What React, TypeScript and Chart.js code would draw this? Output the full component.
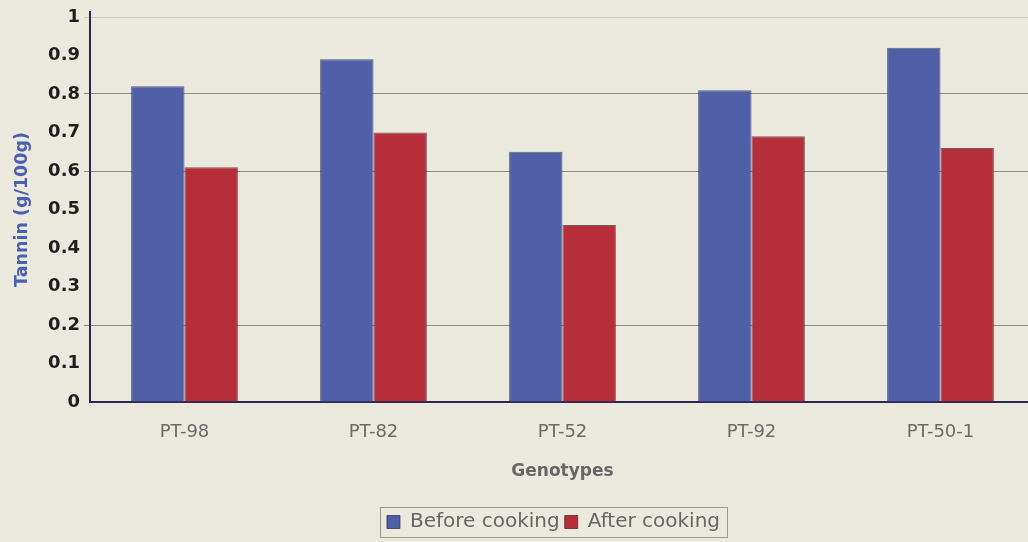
import React, { useEffect, useRef } from "react";
import { Chart, registerables } from "chart.js";

Chart.register(...registerables);

const genotypes = ["PT-98", "PT-82", "PT-52", "PT-92", "PT-50-1"];
const beforeCooking = [0.82, 0.89, 0.65, 0.81, 0.92];
const afterCooking = [0.61, 0.7, 0.46, 0.69, 0.66];
const seriesNames = ["Before cooking", "After cooking"];
const yTicks = [0, 0.1, 0.2, 0.3, 0.4, 0.5, 0.6, 0.7, 0.8, 0.9, 1];
const gridValues = [0.2, 0.6, 0.8];

const PAPER = "#ebe8de";
const AXIS = "#2c2752";
const LEGEND_SHIFT = 36;

// paper background, legend frame and the y axis running a little above 1
const decorations = {
  id: "decorations",
  afterUpdate(chart: any) {
    const legend = chart.legend;
    if (legend) {
      legend.left += LEGEND_SHIFT;
      legend.right += LEGEND_SHIFT;
      (legend.legendHitBoxes || []).forEach((hb: any) => {
        hb.left += LEGEND_SHIFT;
      });
    }
  },
  beforeDraw(chart: any) {
    const { ctx, width, height } = chart;
    ctx.save();
    ctx.fillStyle = PAPER;
    ctx.fillRect(0, 0, width, height);
    ctx.restore();
  },
  afterDraw(chart: any) {
    const { ctx, chartArea } = chart;
    ctx.save();
    ctx.strokeStyle = AXIS;
    ctx.lineWidth = 2;
    ctx.beginPath();
    ctx.moveTo(chartArea.left, chartArea.top - 6);
    ctx.lineTo(chartArea.left, chartArea.bottom);
    ctx.stroke();
    const boxes = chart.legend?.legendHitBoxes || [];
    if (boxes.length) {
      const first = boxes[0];
      const last = boxes[boxes.length - 1];
      const x0 = first.left - 7;
      const x1 = last.left + last.width + 7;
      const y0 = first.top - 5;
      const y1 = first.top + first.height + 5;
      ctx.strokeStyle = "#9a9890";
      ctx.lineWidth = 1;
      ctx.strokeRect(Math.round(x0) + 0.5, Math.round(y0) + 0.5, Math.round(x1 - x0), Math.round(y1 - y0));
    }
    ctx.restore();
  },
};

export default function App() {
  const canvasRef = useRef<HTMLCanvasElement | null>(null);

  useEffect(() => {
    if (!canvasRef.current) return;
    const chart = new Chart(canvasRef.current, {
      type: "bar",
      data: {
        labels: genotypes,
        datasets: [
          {
            label: seriesNames[0],
            data: beforeCooking,
            backgroundColor: "#5060a8",
            borderColor: "rgba(45,45,80,0.75)",
            borderWidth: 1,
          },
          {
            label: seriesNames[1],
            data: afterCooking,
            backgroundColor: "#b52e3a",
            borderColor: "rgba(70,30,40,0.7)",
            borderWidth: 1,
          },
        ],
      },
      options: {
        responsive: false,
        animation: false,
        layout: { padding: { top: 17, right: 5, bottom: 0, left: 0 } },
        datasets: { bar: { categoryPercentage: 0.565, barPercentage: 1 } },
        plugins: {
          tooltip: { enabled: false },
          legend: {
            position: "bottom",
            labels: {
              boxWidth: 13,
              boxHeight: 13,
              padding: 5,
              color: "#666",
              font: { family: "DejaVu Sans", size: 20 },
            },
          },
        },
        scales: {
          x: {
            grid: { display: false, drawTicks: false },
            border: { color: AXIS, width: 2 },
            ticks: {
              color: "#6a6a6a",
              padding: 20,
              font: { family: "DejaVu Sans", size: 18 },
            },
            title: {
              display: true,
              text: "Genotypes",
              color: "#666",
              font: { family: "DejaVu Sans", size: 17, weight: "bold" },
              padding: { top: 0, bottom: 25 },
            },
            afterFit(scale: any) {
              scale.height = 105;
            },
          },
          y: {
            min: 0,
            max: 1,
            afterBuildTicks(scale: any) {
              scale.ticks = yTicks.map((v) => ({ value: v }));
            },
            grid: {
              color: (c: any) => {
                const v = c.tick ? c.tick.value : 0;
                if (gridValues.some((g) => Math.abs(g - v) < 1e-6)) return "rgba(110,105,100,0.75)";
                if (Math.abs(v - 1) < 1e-6) return "rgba(150,145,140,0.35)";
                return "rgba(0,0,0,0)";
              },
              tickLength: 6,
            },
            border: { color: AXIS, width: 2 },
            ticks: {
              color: "#1e1e1e",
              padding: 4,
              font: { family: "DejaVu Sans", size: 18, weight: "bold" },
              callback: (v: any) => String(Math.round(Number(v) * 10) / 10),
            },
            title: {
              display: true,
              text: "Tannin (g/100g)",
              color: "#4a60ae",
              font: { family: "DejaVu Sans", size: 17.5, weight: "bold" },
              padding: { top: 12, bottom: 0 },
            },
            afterFit(scale: any) {
              scale.width = 90;
            },
          },
        },
      },
      plugins: [decorations],
    });
    return () => chart.destroy();
  }, []);

  return (
    <div
      style={{
        position: "fixed",
        left: 0,
        top: 0,
        width: 1028,
        height: 542,
        overflow: "hidden",
        background: PAPER,
      }}
    >
      <canvas ref={canvasRef} width={1040} height={542} />
    </div>
  );
}
